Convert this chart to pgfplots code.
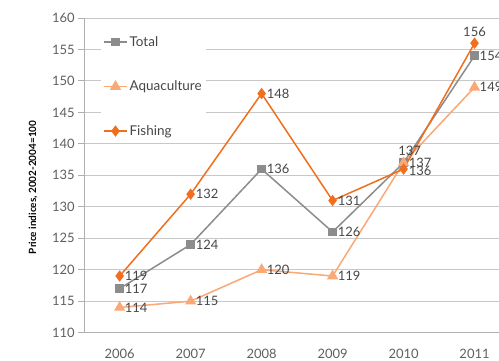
\documentclass[border=0pt]{standalone}
\usepackage{pgfplots}
\pgfplotsset{compat=1.18}
\usepackage{pgfplotstable}
\usepackage{fontspec}
\setmainfont{Lato}
\definecolor{cTotal}{RGB}{140,140,140}
\definecolor{cAqua}{RGB}{250,168,118}
\definecolor{cFish}{RGB}{240,110,30}
\definecolor{cTxt}{RGB}{70,70,70}
\definecolor{cTick}{RGB}{95,95,95}
\definecolor{cGrid}{RGB}{200,200,200}
\definecolor{cAxis}{RGB}{175,175,175}

\pgfplotstableread{
x y
0 117
1 124
2 136
3 126
4 137
5 154
}\total
\pgfplotstableread{
x y
0 114
1 115
2 120
3 119
4 137
5 149
}\aqua
\pgfplotstableread{
x y
0 119
1 132
2 148
3 131
4 136
5 156
}\fish
% labels placed to the right of the points
\pgfplotstableread{
x y
0 117
1 124
2 136
3 126
4 137
5 154
0 114
1 115
2 120
3 119
5 149
0 119
1 132
2 148
3 131
}\lblright
\pgfplotstableread{
x y
4 136
}\lblrightlow
\pgfplotstableread{
x y
5 156
}\lblabove
\pgfplotstableread{
x y
4 137
}\lblaboveright

\begin{document}
\begin{tikzpicture}
\begin{axis}[
  name=ax,
  scale only axis,
  width=425bp, height=314bp,
  xmin=-0.5, xmax=5.5,
  ymin=110, ymax=160,
  ytick={110,115,...,160},
  xtick={0,...,5},
  xticklabels={2006,2007,2008,2009,2010,2011},
  minor xtick={-0.5,0.5,...,5.5},
  axis lines*=left,
  axis line style={cAxis, line width=1.2bp},
  every tick/.style={cAxis, line width=1bp},
  tick align=outside,
  major tick length=6bp,
  minor tick length=5bp,
  xtick style={draw=none},
  minor x tick style={cAxis, line width=1bp},
  ymajorgrids,
  grid style={cGrid, line width=1bp},
  tick label style={font=\fontsize{13}{15}\selectfont, text=cTick},
  /pgf/number format/assume math mode=true,
  xticklabel style={yshift=-7bp},
  ylabel={Price indices, 2002-2004=100},
  every axis y label/.style={at={(axis description cs:-0.12,0.462)}, rotate=90, anchor=center, font=\bfseries\fontsize{10}{12}\selectfont, text=black},
  legend style={at={(axis description cs:0.04,0.955)}, anchor=north west, draw=none, fill=white, font=\fontsize{13.5}{15}\selectfont, text=cTxt, row sep=29bp, inner sep=2bp, cells={anchor=west}, /tikz/every even column/.append style={column sep=3bp}},
  legend image code/.code={\draw[mark repeat=2,mark phase=2] plot coordinates {(0cm,0cm) (0.4cm,0cm) (0.8cm,0cm)};},
  clip=false,
  lbl/.style={draw=none, mark=none, forget plot, nodes near coords, every node near coord/.append style={font=\fontsize{13}{15}\selectfont, text=cTxt, inner sep=2bp}},
]
\addplot[cTotal, line width=1.5bp, mark=square*, mark size=3.6bp, mark options={solid}] table[x=x,y=y] {\total};
\addlegendentry{Total}
\addplot[cAqua, line width=1.5bp, mark=triangle*, mark size=5bp, mark options={solid}] table[x=x,y=y] {\aqua};
\addlegendentry{Aquaculture}
\addplot[cFish, line width=1.5bp, mark=diamond*, mark size=4.5bp, mark options={solid}] table[x=x,y=y] {\fish};
\addlegendentry{Fishing}
\addplot[lbl, every node near coord/.append style={anchor=west, xshift=3bp}] table[x=x,y=y] {\lblright};
\addplot[lbl, every node near coord/.append style={anchor=west, xshift=3bp, yshift=-2bp}] table[x=x,y=y] {\lblrightlow};
\addplot[lbl, every node near coord/.append style={anchor=south, yshift=4bp}] table[x=x,y=y] {\lblabove};
\addplot[lbl, every node near coord/.append style={anchor=south, xshift=6bp, yshift=5bp}] table[x=x,y=y] {\lblaboveright};
\end{axis}
\pgfresetboundingbox
\path[use as bounding box] ([xshift=-84bp,yshift=-28bp]ax.south west) rectangle ([xshift=-11bp,yshift=18bp]ax.north east);
\end{tikzpicture}
\end{document}
